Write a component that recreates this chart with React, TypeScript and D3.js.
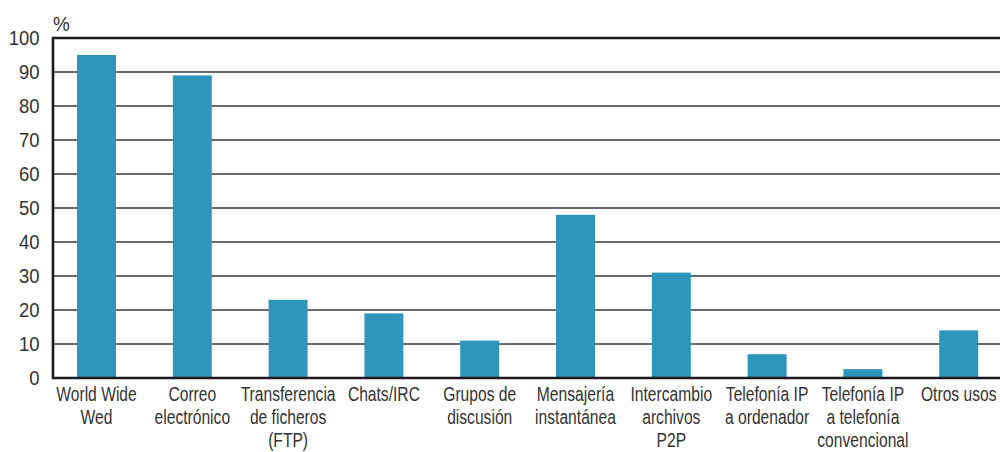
import React from "react";
import * as d3 from "d3";

const categories: string[][] = [
  ["World Wide", "Wed"],
  ["Correo", "electrónico"],
  ["Transferencia", "de ficheros", "(FTP)"],
  ["Chats/IRC"],
  ["Grupos de", "discusión"],
  ["Mensajería", "instantánea"],
  ["Intercambio", "archivos", "P2P"],
  ["Telefonía IP", "a ordenador"],
  ["Telefonía IP", "a telefonía", "convencional"],
  ["Otros usos"],
];
const values: number[] = [95, 89, 23, 19, 11, 48, 31, 7, 2.6, 14];
const yTicks: number[] = [0, 10, 20, 30, 40, 50, 60, 70, 80, 90, 100];
const unitLabel = "%";

const W = 1000;
const H = 452;
const left = 53;
const right = 1000;
const top = 38;
const bottom = 378;
const FONT = "'Liberation Sans', Arial, sans-serif";
const BAR = "#2e96ba";
const TEXT = "#333";

export default function App() {
  const keys = categories.map((c) => c.join(" "));
  const x = d3
    .scaleBand<string>()
    .domain(keys)
    .range([48.6, 1006.6])
    .paddingInner(0.593)
    .paddingOuter(0.2965);
  const y = d3.scaleLinear().domain([0, 100]).range([bottom, top]);

  return (
    <svg
      width={W}
      height={H}
      style={{ position: "absolute", left: 0, top: 0, background: "#fff" }}
      fontFamily={FONT}
    >
      {yTicks
        .filter((t) => t > 0 && t < 100)
        .map((t) => (
          <line key={"g" + t} x1={left} x2={right} y1={y(t)} y2={y(t)} stroke="#3a3a3a" strokeWidth={1.3} />
        ))}
      {values.map((v, i) => (
        <rect
          key={"b" + i}
          x={x(keys[i])!}
          y={y(v)}
          width={x.bandwidth()}
          height={y(0) - y(v)}
          fill={BAR}
        />
      ))}
      <line x1={left} x2={right} y1={y(100)} y2={y(100)} stroke="#1a1a1a" strokeWidth={2.6} />
      <line x1={left} x2={right} y1={y(0)} y2={y(0)} stroke="#1a1a1a" strokeWidth={2.6} />
      <line x1={left} x2={left} y1={y(100) - 1.3} y2={y(0) + 1.3} stroke="#1a1a1a" strokeWidth={2.6} />
      {yTicks.map((t) => (
        <text
          key={"t" + t}
          transform={`translate(39.5,${y(t)}) scale(0.9,1)`}
          dy="0.36em"
          textAnchor="end"
          fontSize={20.5}
          fill={TEXT}
        >
          {t}
        </text>
      ))}
      <text transform="translate(53,31) scale(0.9,1)" fontSize={21} fill={TEXT}>
        {unitLabel}
      </text>
      {categories.map((lines, i) => {
        const cx = x(keys[i])! + x.bandwidth() / 2;
        return (
          <text
            key={"c" + i}
            transform={`translate(${cx},401) scale(0.81,1)`}
            textAnchor="middle"
            fontSize={19.3}
            fill={TEXT}
          >
            {lines.map((l, j) => (
              <tspan key={j} x={0} dy={j === 0 ? 0 : 23}>
                {l}
              </tspan>
            ))}
          </text>
        );
      })}
    </svg>
  );
}
